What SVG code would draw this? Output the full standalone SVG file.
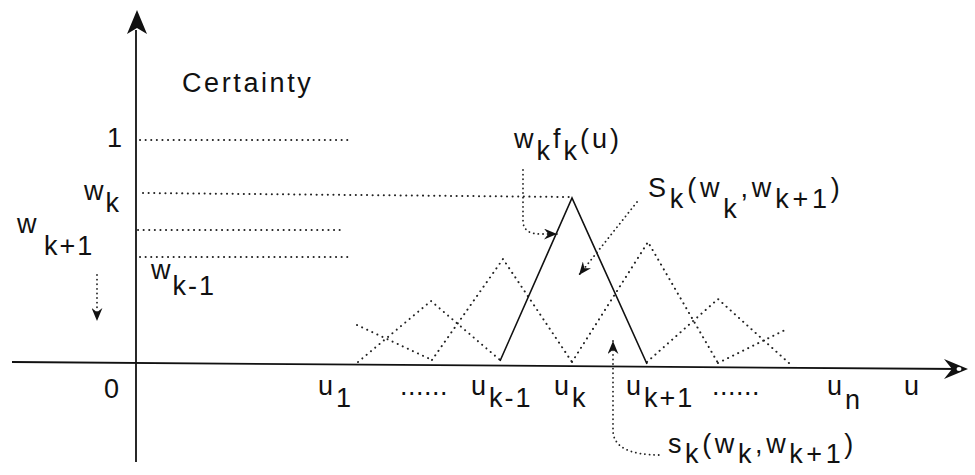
<svg xmlns="http://www.w3.org/2000/svg" width="975" height="475" viewBox="0 0 975 475">
<defs>
<style>
.t{font-family:"Liberation Sans",Arial,Helvetica,sans-serif;font-size:27px;fill:#111;letter-spacing:2px}
.ax{stroke:#111;stroke-width:1.8;fill:none}
.sol{stroke:#111;stroke-width:1.6;fill:none;stroke-linejoin:miter}
.dot{stroke:#222;stroke-width:2;fill:none;stroke-dasharray:0.1 5.5;stroke-linecap:round}
.lead{stroke:#222;stroke-width:1.8;fill:none;stroke-dasharray:0.1 4.5;stroke-linecap:round}
</style>
<marker id="barb" viewBox="0 0 12 10" refX="12" refY="5" markerUnits="userSpaceOnUse" markerWidth="13" markerHeight="11" orient="auto-start-reverse">
<path d="M0,0 L12,5 L0,10 L4,5 Z" fill="#111"/>
</marker>
</defs>

<g id="axes">
<path class="ax" d="M12,362 L960,369"/>
<path class="ax" d="M136,30 L136,462"/>
<path d="M137,10 L147,34 L137,28 L127,34 Z" fill="#111"/>
<path d="M968,369 L944,359 L952,369 L944,379 Z" fill="#111"/>
<ellipse cx="959" cy="369" rx="2.5" ry="2" fill="#fff"/>
</g>

<g id="guides">
<path class="dot" d="M140,140 L348,140"/>
<path class="dot" d="M143,193 L570,197"/>
<path class="dot" d="M138,230 L345,230"/>
<path class="dot" d="M140,257 L348,257"/>
</g>

<g id="membership-functions">
<path class="dot" d="M357,325 L432,360"/>
<path class="dot" d="M358,362 L431,301 L500,360"/>
<path class="dot" d="M432,360 L503,259 L572,362"/>
<path class="dot" d="M572,362 L648,242 L718,363"/>
<path class="dot" d="M647,362 L718,299 L790,364"/>
<path class="dot" d="M718,363 L787,329"/>
<path id="wkfk" class="sol" d="M500,361 L572,198 L647,364"/>
</g>

<g id="connectors">
<path class="lead" d="M97,275 L97,321" marker-end="url(#barb)"/>
<path class="lead" d="M523,170 L523,222 Q524,234 540,234 L557,234" marker-end="url(#barb)"/>
<path class="lead" d="M637,202 L579,275" marker-end="url(#barb)"/>
<path class="lead" d="M613,341 L613,432 Q615,455 660,455" marker-start="url(#barb)"/>
</g>

<g id="labels">
<text class="t" x="182" y="92" style="letter-spacing:2.6px">Certainty</text>
<text class="t" x="107" y="147">1</text>
<text class="t" x="84" y="200">w<tspan dx="0" dy="12">k</tspan></text>
<text class="t" x="17" y="233">w<tspan x="44" dy="22">k+1</tspan></text>
<text class="t" x="151" y="279">w<tspan dx="0" dy="16">k-1</tspan></text>
<text class="t" x="104" y="398">0</text>
</g>

<g id="axis-labels">
<text class="t" x="318" y="395">u<tspan dx="1" dy="12">1</tspan></text>
<text class="t" x="400" y="395" style="letter-spacing:0.5px">......</text>
<text class="t" x="471" y="395">u<tspan dx="1" dy="12">k-1</tspan></text>
<text class="t" x="554" y="395">u<tspan dx="1" dy="12">k</tspan></text>
<text class="t" x="626" y="395">u<tspan dx="1" dy="12">k+1</tspan></text>
<text class="t" x="712" y="395" style="letter-spacing:0.5px">......</text>
<text class="t" x="827" y="395">u<tspan dx="1" dy="14">n</tspan></text>
<text class="t" x="904" y="395">u</text>
</g>

<g id="annotations">
<text class="t" x="514" y="148" style="letter-spacing:3px">w<tspan dy="12">k</tspan><tspan dy="-12">f</tspan><tspan dy="12">k</tspan><tspan dy="-12">(u)</tspan></text>
<text class="t" x="648" y="197" style="letter-spacing:3.8px">S<tspan dy="11">k</tspan><tspan dy="-11">(w</tspan><tspan dy="21">k</tspan><tspan dy="-21">,w</tspan><tspan dy="11">k+1</tspan><tspan dy="-11">)</tspan></text>
<text class="t" x="668" y="453" style="letter-spacing:3.6px">s<tspan dy="10">k</tspan><tspan dy="-10">(w</tspan><tspan dy="10">k</tspan><tspan dy="-10">,w</tspan><tspan dy="10">k+1</tspan><tspan dy="-10">)</tspan></text>
</g>
</svg>
